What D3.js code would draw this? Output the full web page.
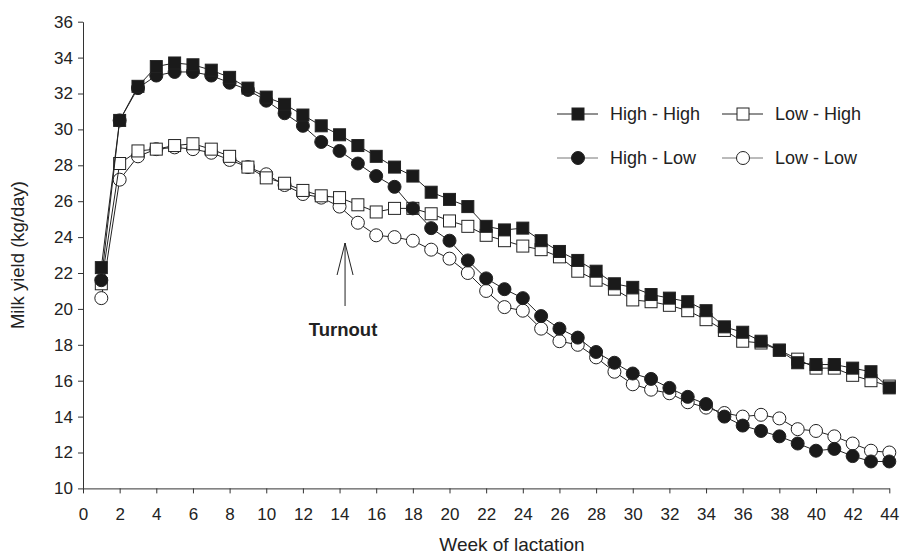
<!DOCTYPE html>
<html>
<head>
<meta charset="utf-8">
<script src="https://cdn.jsdelivr.net/npm/d3@7"></script>
<style>
  body { margin: 0; background: #fff; }
  text { font-family: "Liberation Sans", Arial, sans-serif; fill: #222; }
</style>
</head>
<body>
<div id="chart"></div>
<script>
var svgWidth = 901;
var svgHeight = 554;

// weeks of lactation
var weeks = d3.range(1, 45);

var highHigh = [22.3, 30.5, 32.4, 33.5, 33.7, 33.6, 33.3, 32.9, 32.3, 31.8, 31.4, 30.8, 30.2, 29.7, 29.1,
  28.5, 27.9, 27.4, 26.5, 26.1, 25.7, 24.6, 24.4, 24.5, 23.8, 23.2, 22.7, 22.1, 21.4, 21.2,
  20.8, 20.6, 20.4, 19.9, 19.0, 18.7, 18.2, 17.7, 17.0, 16.9, 16.9, 16.7, 16.5, 15.6];

var lowHigh = [21.4, 28.1, 28.8, 28.9, 29.1, 29.2, 28.9, 28.5, 27.9, 27.3, 27.0, 26.6, 26.3, 26.2, 25.8,
  25.4, 25.6, 25.6, 25.3, 24.9, 24.6, 24.1, 23.8, 23.5, 23.3, 22.9, 22.1, 21.6, 21.1, 20.5,
  20.4, 20.2, 19.9, 19.4, 18.8, 18.2, 18.1, 17.7, 17.2, 16.7, 16.7, 16.3, 16.0, 15.7];

var highLow = [21.6, 30.5, 32.3, 33.0, 33.2, 33.2, 33.0, 32.6, 32.2, 31.6, 30.9, 30.2, 29.3, 28.8, 28.1,
  27.4, 26.8, 25.6, 24.5, 23.8, 22.7, 21.7, 21.1, 20.6, 19.6, 18.9, 18.4, 17.6, 17.0, 16.4,
  16.1, 15.6, 15.1, 14.7, 14.0, 13.5, 13.2, 12.9, 12.5, 12.1, 12.2, 11.8, 11.5, 11.5];

var lowLow = [20.6, 27.2, 28.5, 28.9, 29.0, 28.9, 28.7, 28.3, 27.9, 27.5, 26.9, 26.4, 26.2, 25.7, 24.8,
  24.1, 24.0, 23.8, 23.3, 22.8, 22.0, 21.0, 20.1, 19.9, 18.9, 18.2, 18.0, 17.3, 16.5, 15.8,
  15.5, 15.3, 14.8, 14.5, 14.2, 14.0, 14.1, 13.9, 13.3, 13.2, 12.9, 12.5, 12.1, 12.0];

var xTicks = d3.range(0, 45, 2);
var yTicks = d3.range(10, 37, 2);

var series = [
  { name: "Low - Low", values: lowLow, shape: "circle", fill: "#fff" },
  { name: "Low - High", values: lowHigh, shape: "square", fill: "#fff" },
  { name: "High - Low", values: highLow, shape: "circle", fill: "#1a1a1a" },
  { name: "High - High", values: highHigh, shape: "square", fill: "#1a1a1a" }
];

var svg = d3.select("#chart")
  .append("svg")
  .attr("width", svgWidth)
  .attr("height", svgHeight);

var x = d3.scaleLinear().domain([0, 44]).range([83, 889.3]);
var y = d3.scaleLinear().domain([10, 36]).range([488.4, 21.7]);

// axes
var xAxis = svg.append("g")
  .attr("transform", "translate(0," + y(10) + ")")
  .call(d3.axisBottom(x).tickValues(xTicks).tickSize(5).tickSizeOuter(0).tickPadding(15));
var yAxis = svg.append("g")
  .attr("transform", "translate(" + x(0) + ",0)")
  .call(d3.axisLeft(y).tickValues(yTicks).tickSize(5).tickSizeOuter(0).tickPadding(5));

[xAxis, yAxis].forEach(function(a) {
  a.selectAll("path, line").attr("stroke", "#333");
  a.selectAll("text").attr("font-size", "17px").attr("fill", "#222")
    .attr("font-family", "Liberation Sans, Arial, sans-serif");
});

svg.append("text")
  .attr("transform", "translate(24," + y(23) + ") rotate(-90)")
  .attr("text-anchor", "middle")
  .attr("font-size", "18.5px")
  .text("Milk yield (kg/day)");

svg.append("text")
  .attr("x", 512)
  .attr("y", 551)
  .attr("text-anchor", "middle")
  .attr("font-size", "19px")
  .text("Week of lactation");

// lines + markers
var line = d3.line()
  .x(function(d, i) { return x(weeks[i]); })
  .y(function(d) { return y(d); });

function drawMarker(g, shape, fill, cx, cy) {
  if (shape === "square") {
    g.append("rect")
      .attr("x", cx - 6).attr("y", cy - 6)
      .attr("width", 12).attr("height", 12)
      .attr("fill", fill).attr("stroke", "#222").attr("stroke-width", 1);
  } else {
    g.append("circle")
      .attr("cx", cx).attr("cy", cy).attr("r", 6.5)
      .attr("fill", fill).attr("stroke", "#222").attr("stroke-width", 1);
  }
}

series.forEach(function(s) {
  var g = svg.append("g");
  g.append("path")
    .datum(s.values)
    .attr("d", line)
    .attr("fill", "none")
    .attr("stroke", "#222")
    .attr("stroke-width", 1);
  s.values.forEach(function(v, i) {
    drawMarker(g, s.shape, s.fill, x(weeks[i]), y(v));
  });
});

// legend
var legendItems = [
  { name: "High - High", shape: "square", fill: "#1a1a1a", lx: 557, ly: 114, stroke: "#222" },
  { name: "Low - High", shape: "square", fill: "#fff", lx: 722, ly: 114, stroke: "#222" },
  { name: "High - Low", shape: "circle", fill: "#1a1a1a", lx: 557, ly: 158, stroke: "#777" },
  { name: "Low - Low", shape: "circle", fill: "#fff", lx: 722, ly: 158, stroke: "#777" }
];
legendItems.forEach(function(d) {
  var g = svg.append("g");
  g.append("line")
    .attr("x1", d.lx).attr("x2", d.lx + 41)
    .attr("y1", d.ly).attr("y2", d.ly)
    .attr("stroke", d.stroke).attr("stroke-width", 1);
  drawMarker(g, d.shape, d.fill, d.lx + 21, d.ly);
  g.append("text")
    .attr("x", d.lx + 53)
    .attr("y", d.ly + 6)
    .attr("font-size", "18px")
    .text(d.name);
});

// turnout arrow
var ax = x(14.3);
svg.append("line")
  .attr("x1", ax).attr("x2", ax)
  .attr("y1", 306).attr("y2", 243)
  .attr("stroke", "#222").attr("stroke-width", 1);
svg.append("path")
  .attr("d", "M" + (ax - 8) + ",275 L" + ax + ",243 L" + (ax + 8) + ",275")
  .attr("fill", "none")
  .attr("stroke", "#222").attr("stroke-width", 1);
svg.append("text")
  .attr("x", ax - 2)
  .attr("y", 336)
  .attr("text-anchor", "middle")
  .attr("font-size", "18.5px")
  .attr("font-weight", "bold")
  .text("Turnout");
</script>
</body>
</html>
